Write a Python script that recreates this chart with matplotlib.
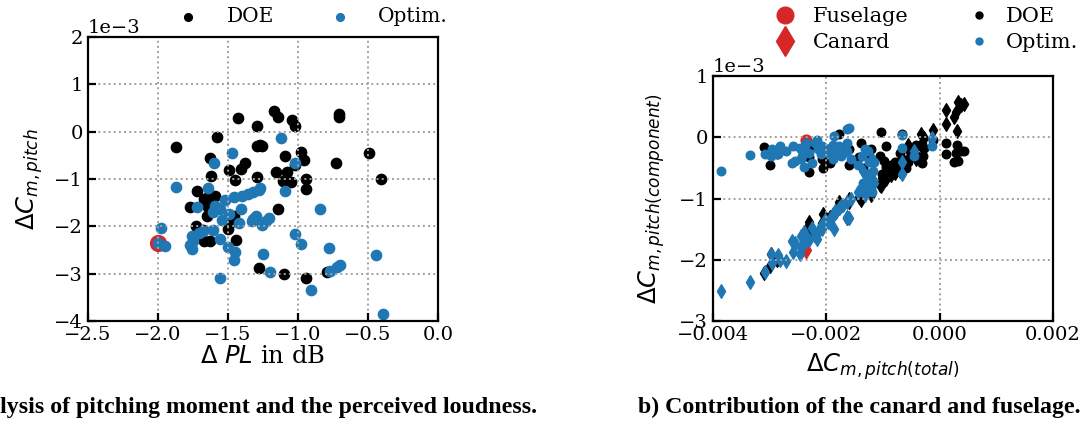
import matplotlib
matplotlib.use("Agg")
import matplotlib.pyplot as plt
from matplotlib.lines import Line2D
import numpy as np

plt.rcParams['font.family'] = ['DejaVu Serif']
plt.rcParams['font.size'] = 14

# --- data (pitching moment values in units of 1e-3) ---
# DOE designs: perceived loudness, total dCm, fuselage part, canard part
doe_pl = [-1.87, -1.63, -1.58, -1.43, -1.29, -1.17, -1.14, -1.04, -1.02, -0.71,
          -0.71, -0.49, -0.41, -0.73, -1.29, -1.27, -1.26, -1.09, -0.98, -0.96,
          -1.02, -1.08, -1.16, -1.11, -1.05, -0.94, -0.94, -1.14, -1.38, -1.41,
          -1.49, -1.45, -1.62, -1.29, -1.72, -1.67, -1.64, -1.59, -1.77, -1.64,
          -1.65, -1.46, -1.49, -1.50, -1.73, -1.68, -1.67, -1.63, -1.44, -1.28,
          -1.10, -0.94, -0.79]
doe_cm = [-0.32, -0.55, -0.11, 0.29, 0.11, 0.43, 0.32, 0.25, 0.11, 0.38,
          0.30, -0.44, -1.00, -0.66, -0.31, -0.28, -0.30, -0.52, -0.42, -0.60,
          -0.70, -0.86, -0.85, -1.04, -1.06, -0.99, -1.21, -1.64, -0.66, -0.79,
          -0.80, -1.02, -0.94, -0.95, -1.26, -1.43, -1.39, -1.36, -1.60, -1.60,
          -1.78, -1.78, -1.94, -2.06, -2.00, -2.08, -2.30, -2.30, -2.29, -2.87,
          -3.00, -3.10, -2.97]
doe_fus = [-0.14, -0.40, -0.05, -0.25, -0.10, -0.23, -0.38, -0.40, -0.28, -0.22,
           -0.12, -0.30, -0.60, -0.35, -0.42, -0.18, -0.30, -0.22, -0.12, -0.50,
           -0.25, -0.45, -0.62, 0.08, -0.30, -0.38, -0.20, -0.18, 0.05, -0.40,
           -0.55, -0.60, -0.15, -0.48, -0.25, -0.32, -0.10, -0.50, -0.20, -0.45,
           0.06, -0.18, -0.42, -0.50, -0.22, -0.35, -0.33, -0.57, -0.15, -0.28,
           -0.46, -0.16, -0.25]
doe_can = [0.05, -0.12, 0.12, 0.42, 0.22, 0.55, 0.58, 0.33, 0.45, 0.52,
           0.10, -0.25, -0.72, -0.48, -0.10, -0.02, -0.20, -0.32, -0.35, -0.40,
           -0.55, -0.62, -0.50, -0.80, -0.78, -0.70, -0.95, -1.32, -0.52, -0.58,
           -0.45, -0.66, -0.68, -0.60, -0.90, -0.98, -1.02, -0.95, -1.00, -1.05,
           -1.06, -1.15, -1.30, -1.25, -1.33, -1.40, -1.43, -1.38, -1.52, -2.00,
           -2.10, -2.22, -1.90]

# optimisation designs
opt_pl = [-1.98, -2.00, -1.95, -1.87, -1.60, -1.47, -1.12, -1.02, -1.09, -1.64,
          -1.72, -1.59, -1.56, -1.61, -1.52, -1.46, -1.40, -1.36, -1.32, -1.28,
          -1.27, -1.41, -1.49, -1.54, -1.42, -1.32, -1.30, -1.33, -1.26, -1.23,
          -1.21, -1.61, -1.68, -1.71, -1.76, -1.75, -1.77, -1.76, -1.56, -1.50,
          -1.45, -1.46, -1.56, -1.25, -1.20, -1.02, -0.98, -0.84, -0.78, -0.77,
          -0.72, -0.70, -0.91, -0.44, -0.39]
opt_cm = [-2.03, -2.35, -2.42, -1.16, -0.66, -0.46, -0.13, -0.67, -1.26, -1.18,
          -1.60, -1.57, -1.64, -1.70, -1.44, -1.37, -1.35, -1.32, -1.27, -1.24,
          -1.19, -1.64, -1.74, -1.87, -1.93, -1.84, -1.78, -1.89, -1.97, -1.88,
          -1.83, -2.08, -2.10, -2.15, -2.20, -2.30, -2.40, -2.47, -2.26, -2.44,
          -2.55, -2.71, -3.09, -2.58, -2.97, -2.16, -2.37, -1.63, -2.45, -2.95,
          -2.86, -2.81, -3.35, -2.61, -3.86]
opt_fus = [-0.20, -0.10, -0.30, -0.40, 0.04, -0.30, -0.15, -0.18, -0.22, -0.55,
           0.15, -0.35, -0.10, -0.25, -0.45, -0.30, -0.75, -0.20, -0.60, -0.40,
           -0.90, -0.22, -0.30, 0.02, -0.18, -0.28, -0.15, -0.35, -0.25, -0.12,
           -0.20, -0.15, -0.28, -0.20, -0.10, -0.25, -0.48, -0.18, -0.42, -0.20,
           -0.38, -0.22, -0.28, -0.15, -0.30, -0.05, -0.15, 0.14, -0.35, -0.20,
           -0.28, -0.15, -0.29, -0.42, -0.55]
opt_can = [-1.35, -1.70, -1.62, -0.75, -0.60, -0.22, -0.01, -0.40, -0.82, -0.70,
           -1.32, -1.00, -1.30, -1.10, -0.90, -0.85, -0.55, -0.95, -0.65, -0.75,
           -0.35, -1.05, -1.12, -1.50, -1.40, -1.20, -1.15, -1.25, -1.38, -1.28,
           -1.22, -1.50, -1.45, -1.55, -1.62, -1.68, -1.55, -1.90, -1.48, -1.80,
           -1.72, -2.02, -2.20, -1.88, -1.90, -1.66, -1.60, -1.32, -1.62, -2.05,
           -1.92, -2.00, -2.36, -1.70, -2.51]

# baseline configuration
base_pl = -2.00
base_cm = -2.35
base_fus = -0.04
base_can = -1.84

scale = 1e-3
blue = '#1f77b4'
red = '#d62728'

fig = plt.figure(figsize=(10.88, 4.21), dpi=100)


def style_axes(ax):
    for s in ax.spines.values():
        s.set_linewidth(1.6)
    ax.tick_params(direction='in', length=6, width=1.6, top=False, right=False)
    ax.grid(True, linestyle=':', color='#a0a0a0', linewidth=1.4)


# ---- a) pitching moment vs. perceived loudness ----
ax1 = fig.add_axes([0.0809, 0.2375, 0.3217, 0.6746])
ax1.scatter([base_pl], [base_cm * scale], s=130, color=red)
ax1.scatter(doe_pl, np.array(doe_cm) * scale, s=55, color='black', label='DOE')
ax1.scatter(opt_pl, np.array(opt_cm) * scale, s=55, color=blue, label='Optim.')
ax1.set_xlim(-2.5, 0.0)
ax1.set_ylim(-4e-3, 2e-3)
ax1.set_xticks(np.arange(-2.5, 0.01, 0.5))
ax1.set_yticks(np.arange(-4, 2.01, 1) * scale)
ax1.ticklabel_format(axis='y', style='sci', scilimits=(0, 0))
ax1.set_xlabel(r'$\Delta$ $PL$ in dB', fontsize=17.5, labelpad=1)
ax1.set_ylabel(r'$\Delta C_{m,pitch}$', fontsize=17.5, labelpad=7)
style_axes(ax1)
ax1.legend(loc='center', bbox_to_anchor=(0.283, 0.96), bbox_transform=fig.transFigure,
           ncol=2, frameon=False, markerscale=0.75, handletextpad=0.9,
           columnspacing=2.25, borderaxespad=0, fontsize=14.5)

# ---- b) contribution of canard and fuselage ----
ax2 = fig.add_axes([0.6553, 0.2375, 0.3125, 0.582])
ax2.scatter([base_cm * scale], [base_fus * scale], s=60, color=red, marker='o')
ax2.scatter([base_cm * scale], [base_can * scale], s=70, color=red, marker='d')
ax2.scatter(np.array(doe_cm) * scale, np.array(doe_fus) * scale, s=38, color='black', marker='o')
ax2.scatter(np.array(doe_cm) * scale, np.array(doe_can) * scale, s=48, color='black', marker='d')
ax2.scatter(np.array(opt_cm) * scale, np.array(opt_fus) * scale, s=38, color=blue, marker='o')
ax2.scatter(np.array(opt_cm) * scale, np.array(opt_can) * scale, s=48, color=blue, marker='d')
ax2.set_xlim(-0.004, 0.002)
ax2.set_ylim(-3e-3, 1e-3)
ax2.set_xticks([-0.004, -0.002, 0.0, 0.002])
ax2.set_yticks(np.arange(-3, 1.01, 1) * scale)
ax2.ticklabel_format(axis='y', style='sci', scilimits=(0, 0))
ax2.set_xlabel(r'$\Delta C_{m,pitch(total)}$', fontsize=17.5, labelpad=5)
ax2.set_ylabel(r'$\Delta C_{m,pitch(component)}$', fontsize=17.5, labelpad=9)
style_axes(ax2)

handles = [
    Line2D([], [], linestyle='none', marker='o', color=red, markersize=12),
    Line2D([], [], linestyle='none', marker='d', color=red, markersize=15),
    Line2D([], [], linestyle='none', marker='o', color='black', markersize=5),
    Line2D([], [], linestyle='none', marker='o', color=blue, markersize=5),
]
labels = ['Fuselage', 'Canard', 'DOE', 'Optim.']
fig.legend(handles, labels, loc='center', bbox_to_anchor=(0.847, 0.93), ncol=2,
           frameon=False, handletextpad=0.3, columnspacing=2.4, labelspacing=0.35,
           borderaxespad=0, fontsize=15)

# captions
cap_font = dict(family='Liberation Serif', weight='bold', fontsize=17.2)
fig.text(537 / 1088, 0.032, 'a) Analysis of pitching moment and the perceived loudness.',
         ha='right', va='center', **cap_font)
fig.text(638 / 1088, 0.032, 'b) Contribution of the canard and fuselage.',
         ha='left', va='center', **cap_font)

fig.savefig('out.png', dpi=100)
